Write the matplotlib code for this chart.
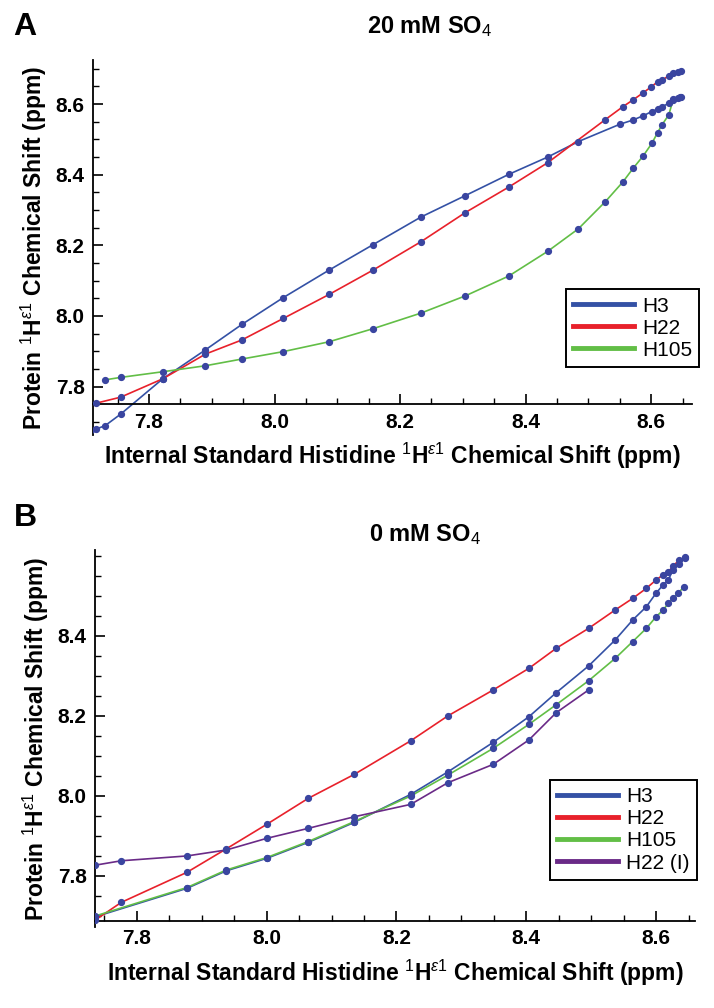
import matplotlib
matplotlib.use('Agg')
import matplotlib.pyplot as plt
from matplotlib.lines import Line2D
from matplotlib.ticker import MultipleLocator

plt.rcParams['font.family'] = ['Liberation Sans', 'DejaVu Sans']
plt.rcParams['mathtext.fontset'] = 'custom'
plt.rcParams['mathtext.rm'] = 'Liberation Sans'
plt.rcParams['mathtext.bf'] = 'Liberation Sans:bold'
plt.rcParams['mathtext.it'] = 'Liberation Sans:italic'

# Panel A, 20 mM SO4
a_h3_x = [7.708, 7.716, 7.730, 7.755, 7.822, 7.890, 7.948, 8.014, 8.087, 8.157, 8.233, 8.304, 8.373,
          8.435, 8.484, 8.550, 8.571, 8.587, 8.601, 8.610, 8.617, 8.628, 8.635, 8.642, 8.647]
a_h3_y = [7.677, 7.680, 7.689, 7.722, 7.822, 7.904, 7.976, 8.052, 8.130, 8.202, 8.280, 8.341, 8.401,
          8.450, 8.494, 8.543, 8.555, 8.567, 8.579, 8.586, 8.593, 8.602, 8.612, 8.617, 8.620]
a_h22_x = [7.716, 7.755, 7.822, 7.890, 7.948, 8.014, 8.087, 8.157, 8.233, 8.304, 8.373, 8.435,
           8.526, 8.555, 8.571, 8.587, 8.600, 8.610, 8.617, 8.628, 8.635, 8.642, 8.647]
a_h22_y = [7.753, 7.770, 7.822, 7.892, 7.932, 7.993, 8.061, 8.130, 8.210, 8.293, 8.365, 8.434,
           8.555, 8.593, 8.612, 8.632, 8.649, 8.663, 8.668, 8.680, 8.688, 8.692, 8.695]
a_h105_x = [7.730, 7.755, 7.822, 7.890, 7.948, 8.014, 8.087, 8.157, 8.233, 8.304, 8.373, 8.435,
            8.484, 8.527, 8.555, 8.571, 8.587, 8.601, 8.610, 8.617, 8.628, 8.635, 8.645]
a_h105_y = [7.819, 7.826, 7.842, 7.859, 7.878, 7.899, 7.927, 7.964, 8.008, 8.057, 8.113, 8.183,
            8.247, 8.324, 8.380, 8.418, 8.453, 8.489, 8.519, 8.541, 8.570, 8.614, 8.620]

# Panel B, 0 mM SO4
b_h3_x = [7.736, 7.877, 7.938, 8.000, 8.064, 8.135, 8.222, 8.279, 8.349, 8.404, 8.446, 8.496,
          8.537, 8.564, 8.585, 8.600, 8.611, 8.619, 8.626, 8.636, 8.644]
b_h3_y = [7.698, 7.769, 7.813, 7.844, 7.884, 7.934, 8.004, 8.060, 8.134, 8.198, 8.258, 8.325,
          8.390, 8.440, 8.473, 8.507, 8.528, 8.540, 8.566, 8.580, 8.595]
b_h22_x = [7.736, 7.776, 7.877, 7.938, 8.000, 8.064, 8.135, 8.222, 8.279, 8.349, 8.404, 8.446,
           8.496, 8.537, 8.564, 8.585, 8.600, 8.611, 8.619, 8.626, 8.636, 8.644]
b_h22_y = [7.690, 7.734, 7.809, 7.868, 7.929, 7.994, 8.054, 8.138, 8.200, 8.265, 8.319, 8.369,
           8.419, 8.465, 8.494, 8.519, 8.540, 8.553, 8.560, 8.575, 8.590, 8.597]
b_h105_x = [7.736, 7.877, 7.938, 8.000, 8.064, 8.135, 8.222, 8.279, 8.349, 8.404, 8.446, 8.496,
            8.537, 8.564, 8.585, 8.600, 8.611, 8.619, 8.626, 8.634, 8.643]
b_h105_y = [7.700, 7.771, 7.815, 7.846, 7.886, 7.936, 8.000, 8.052, 8.119, 8.179, 8.228, 8.288,
            8.344, 8.386, 8.419, 8.448, 8.465, 8.482, 8.494, 8.507, 8.523]
b_h22i_x = [7.736, 7.776, 7.877, 7.938, 8.000, 8.064, 8.135, 8.222, 8.279, 8.349, 8.404, 8.446, 8.496]
b_h22i_y = [7.827, 7.838, 7.850, 7.865, 7.894, 7.919, 7.948, 7.979, 8.033, 8.079, 8.140, 8.208, 8.265]

blue = '#3451a5'
red = '#e8212b'
green = '#62be46'
purple = '#6a2a87'
dot = '#3a45a0'

xlabel = r'Internal Standard Histidine $^{1}\mathbf{H}^{\varepsilon1}$ Chemical Shift (ppm)'
ylabel = r'Protein $^{1}\mathbf{H}^{\varepsilon1}$ Chemical Shift (ppm)'

fig = plt.figure(figsize=(7.14, 10.08), dpi=100)
axA = fig.add_axes([0.1303, 0.5685, 0.839, 0.372])
axB = fig.add_axes([0.1331, 0.0804, 0.8403, 0.374])


def draw(ax, series, xlim, ylim, xcross, yticks, anchor):
    handles = []
    for x, y, c, name in series:
        ax.plot(x, y, color=c, lw=1.2, zorder=2)
        ax.plot(x, y, 'o', color=dot, ms=4.2, zorder=3)
        handles.append(Line2D([0], [0], color=c, lw=3.5, label=name))
    ax.set_xlim(xlim)
    ax.set_ylim(ylim)
    ax.spines['top'].set_visible(False)
    ax.spines['right'].set_visible(False)
    ax.spines['bottom'].set_position(('data', xcross))
    ax.spines['left'].set_linewidth(1.3)
    ax.spines['bottom'].set_linewidth(1.3)
    ax.set_xticks([7.8, 8.0, 8.2, 8.4, 8.6])
    ax.set_yticks(yticks)
    ax.xaxis.set_minor_locator(MultipleLocator(0.05))
    ax.yaxis.set_minor_locator(MultipleLocator(0.05))
    ax.tick_params(which='major', direction='in', length=7, width=1.2, labelsize=15, pad=6)
    ax.tick_params(which='minor', direction='in', length=4, width=1.0)
    for t in ax.get_xticklabels() + ax.get_yticklabels():
        t.set_fontweight('bold')
    ax.set_xlabel(xlabel, fontsize=16.5, fontweight='bold', labelpad=7)
    ax.set_ylabel(ylabel, fontsize=16.5, fontweight='bold', labelpad=5)
    leg = ax.legend(handles=handles, loc='lower right', bbox_to_anchor=anchor, fontsize=15,
                    frameon=True, fancybox=False, framealpha=1, edgecolor='black',
                    handlelength=2.9, labelspacing=0.15, borderpad=0.35, handletextpad=0.4,
                    borderaxespad=0)
    leg.get_frame().set_linewidth(1.4)


draw(axA, [(a_h3_x, a_h3_y, blue, 'H3'), (a_h22_x, a_h22_y, red, 'H22'),
           (a_h105_x, a_h105_y, green, 'H105')],
     (7.711, 8.665), (7.663, 8.725), 7.75, [7.8, 8.0, 8.2, 8.4, 8.6], (1.012, 0.181))
draw(axB, [(b_h3_x, b_h3_y, blue, 'H3'), (b_h22_x, b_h22_y, red, 'H22'),
           (b_h105_x, b_h105_y, green, 'H105'), (b_h22i_x, b_h22i_y, purple, 'H22 (I)')],
     (7.7355, 8.660), (7.6725, 8.615), 7.6875, [7.8, 8.0, 8.2, 8.4], (1.003, 0.125))

fig.text(25 / 714, 1 - 27 / 1008, 'A', fontsize=23, fontweight='bold', ha='center', va='center')
fig.text(25 / 714, 1 - 518 / 1008, 'B', fontsize=23, fontweight='bold', ha='center', va='center')
fig.text(430 / 714, 1 - 27 / 1008, r'20 mM SO$_{4}$', fontsize=17, fontweight='bold',
         ha='center', va='center')
fig.text(425 / 714, 1 - 535 / 1008, r'0 mM SO$_{4}$', fontsize=17, fontweight='bold',
         ha='center', va='center')

fig.savefig('out.png', dpi=100)
